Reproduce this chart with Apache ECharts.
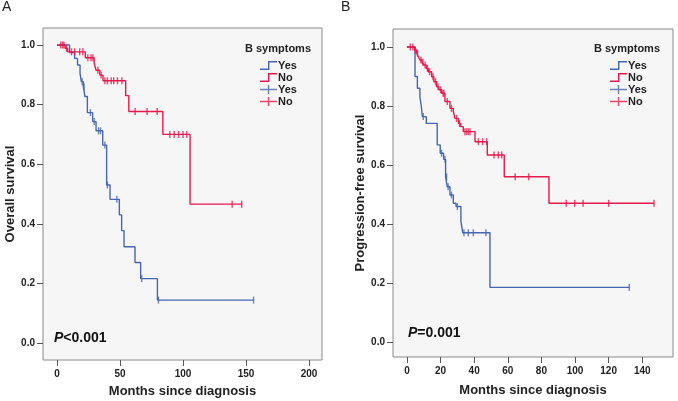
<!DOCTYPE html>
<html>
<head>
<meta charset="utf-8">
<script src="https://cdn.jsdelivr.net/npm/echarts@6/dist/echarts.min.js"></script>
<style>
  html, body { margin: 0; padding: 0; background: #fff; }
  #chart { width: 678px; height: 401px; }
</style>
</head>
<body>
<div id="chart"></div>
<script>
// Panel A - overall survival
const monthsAYes = [0, 10, 14, 16.3, 18.3, 19.3, 20.9, 22.2, 24.1, 28.3, 31, 36.3, 39.4, 42.1, 49.5, 51.3, 53.2, 61.9, 66.4, 79.7, 156];
const survAYes = [1, 0.975, 0.955, 0.933, 0.905, 0.877, 0.86, 0.827, 0.773, 0.743, 0.712, 0.664, 0.53, 0.482, 0.43, 0.377, 0.323, 0.27, 0.216, 0.144, 0.144];
const censorAYes = [20, 21.5, 26.5, 29.5, 33, 34.5, 38, 40, 47.5, 67.2, 80.5, 156];

const monthsANo = [0, 6.5, 8.5, 22.5, 29.5, 31, 34, 36.5, 54.5, 57, 84, 105.6, 147];
const survANo = [1, 0.989, 0.977, 0.957, 0.94, 0.915, 0.899, 0.88, 0.83, 0.777, 0.70, 0.466, 0.466];
const censorANo = [3, 4.5, 5.5, 7.5, 11.5, 14, 18, 20.5, 24.5, 27, 28.5, 32.5, 35, 38, 40, 43, 45, 48, 51.5, 62, 71.5, 79.5, 89.5, 93, 96.5, 100, 103, 139, 146.6];

// Panel B - progression-free survival
const monthsBYes = [0, 4.8, 6.2, 7.7, 8.5, 9.2, 11.5, 18, 19.8, 21.8, 23, 24, 25.6, 27.6, 29.2, 32.1, 33.2, 49.4, 132.3];
const survBYes = [1, 0.9, 0.86, 0.832, 0.80, 0.764, 0.741, 0.668, 0.64, 0.619, 0.56, 0.526, 0.498, 0.47, 0.459, 0.41, 0.37, 0.185, 0.185];
const censorBYes = [9.7, 20.6, 22.6, 23.6, 24.5, 26.5, 30, 33.9, 36.5, 39.5, 47, 132.3];

const monthsBNo = [0, 4.5, 5.8, 6.8, 7.7, 9, 10.1, 11.5, 12.7, 14.7, 16, 17.7, 19, 20.6, 22.6, 25.6, 27.6, 28.6, 30.6, 32, 33.5, 40.5, 47.8, 57.9, 84.5, 147];
const survBNo = [1, 0.99, 0.979, 0.967, 0.956, 0.948, 0.939, 0.927, 0.916, 0.899, 0.882, 0.865, 0.855, 0.843, 0.815, 0.792, 0.781, 0.758, 0.741, 0.73, 0.713, 0.679, 0.634, 0.56, 0.47, 0.47];
const censorBNo = [2, 3.5, 5, 6.3, 8.3, 9.5, 10.8, 12.2, 13.5, 15.5, 17, 18.5, 20, 21.5, 22, 24, 26.5, 29.5, 31.3, 34.5, 35.5, 36.5, 37.5, 42.5, 45, 47.4, 51.8, 54.4, 56.4, 64.4, 72.4, 94.8, 99.8, 104.8, 120, 147];

const ticksA = [0, 50, 100, 150, 200];
const ticksB = [0, 20, 40, 60, 80, 100, 120, 140];
const ticksY = [0, 0.2, 0.4, 0.6, 0.8, 1.0];

const blue = '#4766b0';
const red = '#e6194b';
const narrow = '"Liberation Sans Narrow", "Liberation Sans", Arial, sans-serif';
const sans = '"Liberation Sans", Arial, sans-serif';

const stepIcon = 'path://M0,7.6H8V0H17V1.4H9.4V9H0Z';
const crossIcon = 'path://M0,3.8H17V5.2H0Z M7.8,0H9.2V9H7.8Z';

// survival value of a step curve at time t
function survAt(ts, ss, t) {
  let s = ss[0];
  for (let i = 0; i < ts.length; i++) {
    if (ts[i] <= t) s = ss[i];
  }
  return s;
}

function stepSeries(name, idx, ts, ss, color) {
  return {
    name: name,
    type: 'line',
    step: 'end',
    xAxisIndex: idx,
    yAxisIndex: idx,
    showSymbol: false,
    symbol: 'none',
    lineStyle: { color: color, width: 1.4 },
    itemStyle: { color: color },
    data: ts.map((t, i) => [t, ss[i]]),
    z: 3
  };
}

function censorSeries(name, idx, cs, ts, ss, color) {
  return {
    name: name,
    type: 'scatter',
    xAxisIndex: idx,
    yAxisIndex: idx,
    symbol: 'rect',
    symbolSize: [1.4, 7],
    itemStyle: { color: color },
    data: cs.map(t => [t, survAt(ts, ss, t)]),
    z: 4
  };
}

function xAxis(idx, min, max, ticks, gap) {
  return {
    type: 'value',
    gridIndex: idx,
    position: 'bottom',
    min: min,
    max: max,
    name: 'Months since diagnosis',
    nameLocation: 'middle',
    nameGap: gap,
    nameTextStyle: { fontFamily: narrow, fontWeight: 'bold', fontSize: 13, color: '#222' },
    axisLine: { show: false, onZero: false },
    splitLine: { show: false },
    axisTick: { show: true, length: 6, customValues: ticks, lineStyle: { color: '#555' } },
    axisLabel: {
      customValues: ticks, margin: 9,
      fontFamily: narrow, fontWeight: 'bold', fontSize: 10, color: '#222'
    }
  };
}

function yAxis(idx, min, max, name, gap) {
  return {
    type: 'value',
    gridIndex: idx,
    position: 'left',
    min: min,
    max: max,
    name: name,
    nameLocation: 'middle',
    nameGap: gap,
    nameTextStyle: { fontFamily: sans, fontWeight: 'bold', fontSize: 13, color: '#222' },
    axisLine: { show: false, onZero: false },
    splitLine: { show: false },
    axisTick: { show: true, length: 6, customValues: ticksY, lineStyle: { color: '#555' } },
    axisLabel: {
      customValues: ticksY, margin: 8,
      fontFamily: narrow, fontWeight: 'bold', fontSize: 10, color: '#222',
      formatter: v => v.toFixed(1)
    }
  };
}

function legend(left) {
  return {
    orient: 'vertical',
    left: left,
    top: 60,
    padding: 0,
    itemWidth: 17,
    itemHeight: 9,
    itemGap: 1,
    selectedMode: false,
    textStyle: { fontFamily: narrow, fontWeight: 'bold', fontSize: 11, color: '#222', padding: [0, 0, 0, -4] },
    data: [
      { name: 'Yes', icon: stepIcon },
      { name: 'No', icon: stepIcon },
      { name: 'Yes ', icon: crossIcon },
      { name: 'No ', icon: crossIcon }
    ]
  };
}

const pStyle = {
  fontFamily: sans, fontSize: 14, color: '#111',
  rich: { i: { fontFamily: sans, fontSize: 14, fontStyle: 'italic', fontWeight: 'bold', color: '#111' } }
};

const chart = echarts.init(document.getElementById('chart'));
chart.setOption({
  animation: false,
  backgroundColor: '#fff',
  title: [
    { text: 'A', left: 2, top: 0, padding: 0, textStyle: { fontFamily: sans, fontSize: 14, fontWeight: 'normal', color: '#222' } },
    { text: 'B', left: 341, top: 0, padding: 0, textStyle: { fontFamily: sans, fontSize: 14, fontWeight: 'normal', color: '#222' } },
    { text: 'B symptoms', left: 245, top: 43, padding: 0, textStyle: { fontFamily: narrow, fontSize: 11, fontWeight: 'bold', color: '#222' } },
    { text: 'B symptoms', left: 594, top: 43, padding: 0, textStyle: { fontFamily: narrow, fontSize: 11, fontWeight: 'bold', color: '#222' } },
    { text: '{i|P}<0.001', left: 54, top: 331, padding: 0, textStyle: pStyle },
    { text: '{i|P}=0.001', left: 408, top: 326, padding: 0, textStyle: pStyle }
  ],
  legend: [legend(260), legend(610)],
  grid: [
    { left: 43, right: 356, top: 28, bottom: 41, outerBoundsMode: 'none', show: true, backgroundColor: '#f6f6f6', borderColor: '#8a8a8a', borderWidth: 1 },
    { left: 393, right: 5, top: 29, bottom: 44, outerBoundsMode: 'none', show: true, backgroundColor: '#f6f6f6', borderColor: '#8a8a8a', borderWidth: 1 }
  ],
  xAxis: [
    xAxis(0, -11.1, 210.3, ticksA, 25),
    xAxis(1, -8.3, 158.3, ticksB, 27)
  ],
  yAxis: [
    yAxis(0, -0.057, 1.057, 'Overall survival', 23),
    yAxis(1, -0.051, 1.061, 'Progression-free survival', 21)
  ],
  series: [
    stepSeries('Yes', 0, monthsAYes, survAYes, blue),
    stepSeries('No', 0, monthsANo, survANo, red),
    censorSeries('Yes ', 0, censorAYes, monthsAYes, survAYes, blue),
    censorSeries('No ', 0, censorANo, monthsANo, survANo, red),
    stepSeries('Yes', 1, monthsBYes, survBYes, blue),
    stepSeries('No', 1, monthsBNo, survBNo, red),
    censorSeries('Yes ', 1, censorBYes, monthsBYes, survBYes, blue),
    censorSeries('No ', 1, censorBNo, monthsBNo, survBNo, red)
  ]
});
</script>
</body>
</html>
